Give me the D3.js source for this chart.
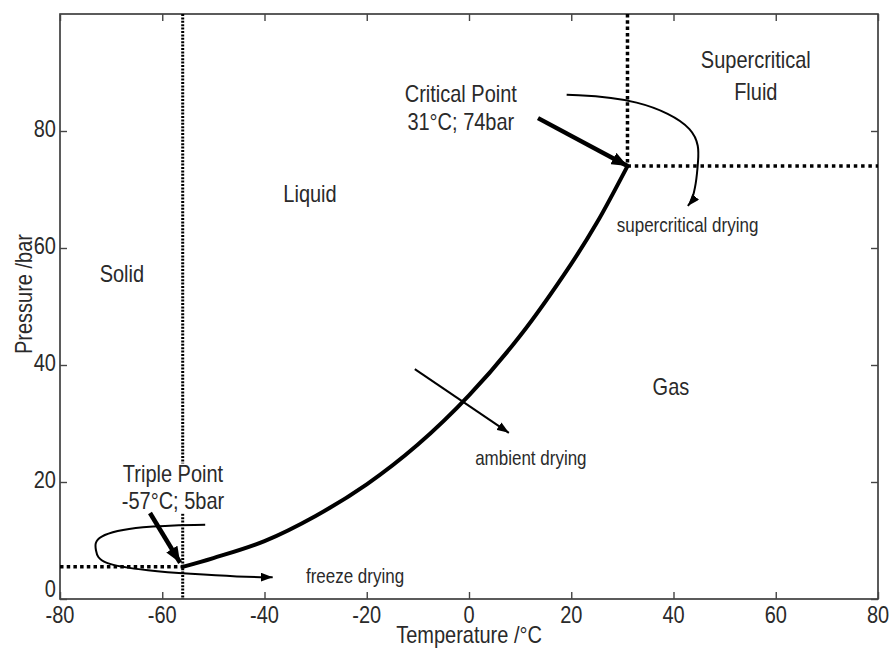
<!DOCTYPE html>
<html><head><meta charset="utf-8">
<script src="https://cdn.jsdelivr.net/npm/d3@7"></script>
<style>body{margin:0;background:#fff}svg{display:block}</style>
</head><body>
<svg id="c" width="889" height="648"></svg>
<script>
// ---- data ----
const xDomain = [-80, 80];
const yDomain = [0, 100];
const xTicks = [-80, -60, -40, -20, 0, 20, 40, 60, 80];
const yTicks = [0, 20, 40, 60, 80];
const curveTemp = [-56, -50, -40, -30, -20, -10, 0, 10, 20, 25, 31];
const curvePress = [5.5, 7.0, 9.9, 14.2, 19.6, 26.4, 34.8, 45.0, 57.3, 64.3, 74.0];
const triplePoint = [-56, 5.5];
const criticalPoint = [31, 74];
const regionLabels = [
  {t: "Solid", x: -67.9, y: 54.2},
  {t: "Liquid", x: -31.1, y: 67.9},
  {t: "Gas", x: 39.5, y: 34.9},
  {t: "Supercritical", x: 56.1, y: 90.8},
  {t: "Fluid", x: 56.1, y: 85.3},
  {t: "Critical Point", x: -1.6, y: 85.0},
  {t: "31°C; 74bar", x: -1.6, y: 80.2},
  {t: "Triple Point", x: -57.9, y: 20.0, knock: true},
  {t: "-57°C; 5bar", x: -57.9, y: 15.4, knock: true}
];
const processLabels = [
  {t: "freeze drying", x: -31.9, y: 2.7},
  {t: "ambient drying", x: 1.2, y: 22.9},
  {t: "supercritical drying", x: 28.9, y: 62.7}
];
// process arrows (data coordinates of path points)
const freezePath = [[-51.6, 12.7], [-64.4, 12.5], [-73.4, 10.8], [-73.0, 8.3], [-72.4, 6.0], [-62.4, 4.8], [-54.8, 4.3], [-44.8, 3.8], [-38.4, 3.7]];
const ambientPath = [[-10.6, 39.3], [7.8, 28.4]];
const superPath = [[19.1, 86.2], [33.1, 85.6], [45.2, 80.5], [44.8, 74.4], [44.4, 70.9], [43.6, 68.0], [42.8, 67.2]];
const criticalArrow = [[13.5, 82.2], [31, 74]];
const tripleArrow = [[-62.4, 14.7], [-56.5, 6.2]];

// ---- layout ----
const L = 60, R = 878, T = 14, B = 599;
const x = d3.scaleLinear().domain(xDomain).range([L, R]);
const y = d3.scaleLinear().domain(yDomain).range([B, T]);
const svg = d3.select("#c");
const ink = "#2a2a2a";
const FONT = "'Liberation Sans', Arial, Helvetica, sans-serif";
const SY = 1.18;

const defs = svg.append("defs");
function marker(id, w, h) {
  defs.append("marker").attr("id", id).attr("viewBox", `0 0 ${w} ${h}`)
    .attr("refX", w).attr("refY", h / 2).attr("markerWidth", w).attr("markerHeight", h)
    .attr("markerUnits", "userSpaceOnUse").attr("orient", "auto")
    .append("path").attr("d", `M0,0 L${w},${h/2} L0,${h} Z`).attr("fill", "#000");
}
marker("thin", 12, 9);
marker("thick", 16, 13);

function txt(s, px, py, size, anchor) {
  return svg.append("text").attr("transform", `translate(${px},${py}) scale(1,${SY})`)
    .attr("text-anchor", anchor || "middle").attr("font-family", FONT)
    .attr("font-size", size).attr("fill", ink).text(s);
}

// frame
svg.append("rect").attr("x", L).attr("y", T).attr("width", R - L).attr("height", B - T)
  .attr("fill", "none").attr("stroke", "#333").attr("stroke-width", 1.6);

// axes with inward ticks (mirrored)
const tickLen = 7;
const axB = svg.append("g").attr("transform", `translate(0,${B})`)
  .call(d3.axisTop(x).tickValues(xTicks).tickSize(tickLen).tickFormat(""));
const axT = svg.append("g").attr("transform", `translate(0,${T})`)
  .call(d3.axisBottom(x).tickValues(xTicks).tickSize(tickLen).tickFormat(""));
const axL = svg.append("g").attr("transform", `translate(${L},0)`)
  .call(d3.axisRight(y).tickValues(yTicks).tickSize(tickLen).tickFormat(""));
const axR = svg.append("g").attr("transform", `translate(${R},0)`)
  .call(d3.axisLeft(y).tickValues(yTicks).tickSize(tickLen).tickFormat(""));
[axB, axT, axL, axR].forEach(g => {
  g.select(".domain").remove();
  g.selectAll("line").attr("stroke", "#444").attr("stroke-width", 1.4);
});

// tick labels
xTicks.forEach(v => txt(String(v), x(v), B + 24, 20));
yTicks.forEach(v => txt(String(v), L - 4, y(v) + 6 - (v === 0 ? 8 : 0), 20, "end"));

// axis titles
txt("Temperature /°C", (L + R) / 2, 643, 20);
svg.append("text").attr("transform", `translate(32,294) rotate(-90) scale(1,${SY})`)
  .attr("text-anchor", "middle").attr("font-family", FONT).attr("font-size", 20)
  .attr("fill", ink).text("Pressure /bar");

// dotted phase boundaries
const dots = svg.append("g").attr("fill", "none").attr("stroke", "#000");
dots.append("line").attr("x1", x(triplePoint[0])).attr("x2", x(triplePoint[0]))
  .attr("y1", y(yDomain[1])).attr("y2", y(0))
  .attr("stroke-width", 3).attr("stroke-dasharray", "2,1.4");
dots.append("line").attr("x1", x(xDomain[0])).attr("x2", x(triplePoint[0]))
  .attr("y1", y(triplePoint[1])).attr("y2", y(triplePoint[1]))
  .attr("stroke-width", 3.5).attr("stroke-dasharray", "3.5,3.2");
dots.append("line").attr("x1", x(criticalPoint[0])).attr("x2", x(criticalPoint[0]))
  .attr("y1", y(yDomain[1])).attr("y2", y(criticalPoint[1]))
  .attr("stroke-width", 3.5).attr("stroke-dasharray", "3.5,2.8");
dots.append("line").attr("x1", x(criticalPoint[0])).attr("x2", x(xDomain[1]))
  .attr("y1", y(criticalPoint[1])).attr("y2", y(criticalPoint[1]))
  .attr("stroke-width", 3.5).attr("stroke-dasharray", "3.5,3.8");

// white knock-out behind the triple point label
const knockG = svg.append("g");

// vapour pressure curve
const pts = curveTemp.map((t, i) => [t, curvePress[i]]);
svg.append("path").datum(pts)
  .attr("d", d3.line().x(d => x(d[0])).y(d => y(d[1])).curve(d3.curveCatmullRom.alpha(0.5)))
  .attr("fill", "none").attr("stroke", "#000").attr("stroke-width", 4).attr("stroke-linecap", "round");

// arrows
const lineB = d3.line().x(d => x(d[0])).y(d => y(d[1])).curve(d3.curveBasis);
const lineS = d3.line().x(d => x(d[0])).y(d => y(d[1]));
svg.append("path").attr("d", lineB(freezePath)).attr("fill", "none").attr("stroke", "#000")
  .attr("stroke-width", 2).attr("marker-end", "url(#thin)");
svg.append("path").attr("d", lineS(ambientPath)).attr("fill", "none").attr("stroke", "#000")
  .attr("stroke-width", 2).attr("marker-end", "url(#thin)");
svg.append("path").attr("d", lineB(superPath)).attr("fill", "none").attr("stroke", "#000")
  .attr("stroke-width", 2).attr("marker-end", "url(#thin)");
svg.append("path").attr("d", lineS(criticalArrow)).attr("fill", "none").attr("stroke", "#000")
  .attr("stroke-width", 4.5).attr("marker-end", "url(#thick)");
svg.append("path").attr("d", lineS(tripleArrow)).attr("fill", "none").attr("stroke", "#000")
  .attr("stroke-width", 4.5).attr("marker-end", "url(#thick)");

// labels
let kb = null;
regionLabels.forEach(d => {
  const t = txt(d.t, x(d.x), y(d.y), 20);
  if (d.knock) {
    const bb = t.node().getBBox();
    const px = x(d.x), py = y(d.y);
    const r = {x0: px + bb.x, x1: px + bb.x + bb.width, y0: py + bb.y * SY, y1: py + (bb.y + bb.height) * SY};
    kb = kb ? {x0: Math.min(kb.x0, r.x0), x1: Math.max(kb.x1, r.x1), y0: Math.min(kb.y0, r.y0), y1: Math.max(kb.y1, r.y1)} : r;
  }
});
if (kb) {
  knockG.append("rect").attr("x", kb.x0 - 2).attr("y", kb.y0 + 3)
    .attr("width", kb.x1 - kb.x0 + 4).attr("height", kb.y1 - kb.y0 - 4).attr("fill", "#fff");
}
processLabels.forEach(d => txt(d.t, x(d.x), y(d.y), 17, "start"));
</script>
</body></html>
